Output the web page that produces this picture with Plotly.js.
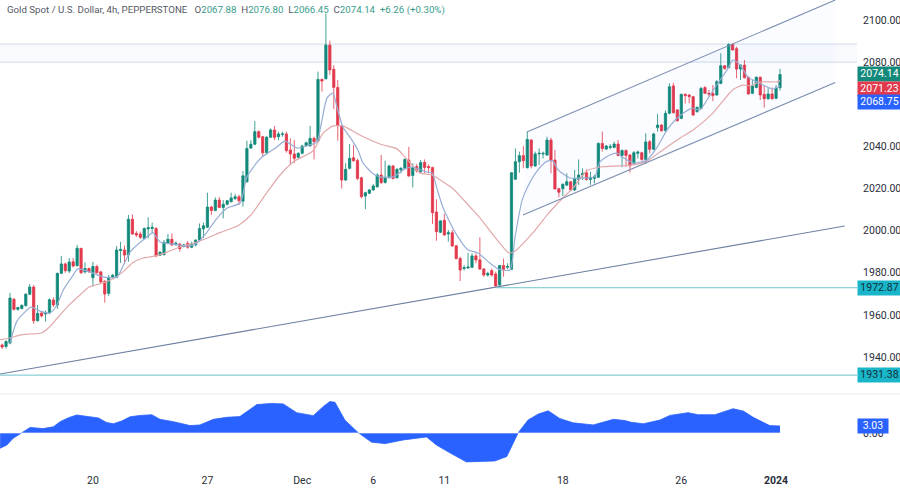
<!DOCTYPE html>
<html>
<head>
<meta charset="utf-8">
<script src="https://cdn.plot.ly/plotly-3.0.1.min.js"></script>
<style>html,body{margin:0;padding:0;background:#fff}#chart{width:900px;height:488px}</style>
</head>
<body>
<div id="chart"></div>
<script>
const opens = [
1945.7,1945,1946.6,1967.4,1962.6,1963,1964.4,1969.8,1973.2,1957.2,
1960.9,1960.4,1960.9,1967,1964.7,1979.7,1984.2,1980.8,1985.2,1983.3,
1991.6,1980.4,1982,1977.6,1982.9,1980.4,1975.9,1970.2,1977.8,1977.8,
1990.5,1990.8,1988.4,2005.4,1998.7,1998.4,1996.3,2000.8,2001,2001,
1988.3,1988.6,1994,1995.9,1993.5,1993.6,1992.4,1994,1992.1,1993.2,
1995.5,2000.8,2001.6,2011.2,2009.5,2014.5,2011,2012.5,2013.7,2015.2,
2016.1,2014,2023.2,2039.2,2041,2047,2044.6,2037,2044.3,2047.8,
2044.6,2045.7,2045.9,2038.3,2036.4,2034.8,2036.7,2040.3,2040.2,2043.8,
2042.5,2071.8,2072.1,2088.1,2076.6,2068,2049.8,2024,2029.6,2034.6,
2033.3,2025.1,2016.4,2017.7,2019.3,2020.8,2026.4,2022.8,2025.1,2030.7,
2025.1,2028.8,2029.6,2033.5,2026.2,2030.4,2028,2032.4,2030.4,2030,
2008.8,1999.2,2004.9,1998.4,1999,1992.8,1986.8,1982,1982.2,1982.6,
1988,1986.1,1981.8,1978.9,1981,1979.4,1974.2,1983.4,1982.6,1981.6,
2024.4,2032.7,2035.6,2029.9,2043,2030.7,2036.4,2036.4,2035.9,2043,
2033.5,2019.9,2019.9,2021.6,2023.2,2019.3,2024.3,2026.4,2027.5,2024.3,
2024.8,2025.3,2041.4,2038.7,2039.5,2039.5,2041.1,2035.7,2038,2035.9,
2031.9,2036.7,2037,2033.8,2042.2,2038.6,2048.9,2050.1,2047.4,2055.7,
2068.7,2057.3,2053.3,2064.7,2064.4,2063.6,2056.5,2058,2067.9,2065.2,
2065.2,2064.4,2069.9,2078.3,2077.4,2088.4,2086.4,2076.7,2078.6,2072.8,
2065.2,2068,2072.8,2064.7,2062.6,2064.9,2062.8,2067.88];
const highs = [
1946.4,1948,1970.5,1968,1963.8,1965,1970.3,1974.6,1974.2,1964.7,
1961.5,1962,1967.8,1968.3,1980,1988,1984.8,1987,1987,1993.2,
1991.6,1985,1982.4,1985.2,1983.8,1980.9,1976.5,1979,1979.4,1992.7,
1994.7,1993,2007.4,2007.7,1999.8,1999.5,2001.5,2006.3,2003.8,2001.6,
1990.3,1995.5,1998.4,1998.7,1994.8,1994.2,1993.8,1995,1994.8,1995.9,
2003.4,2003.8,2018,2011.7,2015.8,2016,2014.5,2014.6,2018,2017.4,
2017,2028.3,2042.7,2043,2052,2047.6,2045,2045,2048.6,2049.7,
2047,2047,2047,2043.8,2043,2037.2,2040.8,2042.3,2049.7,2044.6,
2075.5,2072.2,2103,2090.2,2078.6,2071.5,2050,2032,2041.1,2040.6,
2034.2,2025.6,2018.5,2019.8,2022.1,2027.2,2035.9,2033.2,2031.3,2031.2,
2029.6,2030.1,2034.3,2039.8,2032,2031.6,2033.5,2033.8,2031.5,2030.3,
2014.9,2005,2008,2000.3,2000.3,1993.2,1987.6,1983.6,1989.5,1989.2,
1989.2,1996.8,1982.2,1980.5,1982,1980.5,1983.7,1986.8,1984.5,2027.5,
2039,2037.5,2040.2,2047,2043.4,2037.5,2039,2037.5,2044.6,2044.1,
2038.3,2020.3,2022.4,2027.2,2023.6,2028.8,2033.8,2029.6,2029.1,2028,
2026.5,2041.9,2047,2040.6,2041.1,2042.2,2043,2038.6,2038.6,2036.3,
2037.8,2038,2037.5,2046.2,2043,2046.5,2055.4,2050.6,2057,2069.9,
2070.2,2057.7,2065,2065.2,2064.8,2064,2059,2068.3,2068.7,2066.8,
2069.1,2071.5,2084.2,2078.6,2088.9,2088.9,2087.3,2079,2081,2073.2,
2071.5,2073.2,2073.2,2069.1,2068,2068,2069.1,2076.8];
const lows = [
1943.8,1944,1946,1962,1962,1962.6,1963.8,1969.4,1955.7,1956.8,
1958.8,1956.8,1960.4,1963.8,1962.8,1979.4,1980,1979.8,1982.5,1983,
1979.4,1979.6,1980,1973.4,1979.6,1975,1965.8,1969,1977.2,1977.4,
1984.6,1984.2,1985.2,1998,1996.9,1996,1995.8,1996.3,1998.8,1987.3,
1987.9,1988.2,1993.5,1992.6,1992.7,1990,1992,1991.4,1991.7,1992.5,
1995.2,1996.5,2001.2,2007.4,2009.2,2010.6,2005.8,2012,2013.4,2014.6,
2012.2,2011.3,2022.8,2038.8,2040.6,2043.8,2035,2036,2044,2043,
2043,2044.6,2037,2031.2,2032,2034.3,2036.2,2039.9,2039.8,2033.8,
2042.1,2066,2071.8,2073.9,2057.7,2042.7,2020,2023.6,2029,2032.7,
2024,2015.3,2010.2,2017.3,2018.9,2020.4,2022.1,2022.4,2024.7,2024.3,
2024.7,2027.2,2029.2,2025.6,2020.5,2027.5,2027.2,2027.2,2027.2,2003.1,
1995.2,1998.8,1997.5,1994.8,1992.4,1986.4,1976,1981,1982,1982.1,
1984.5,1981.3,1978.1,1978.1,1978.1,1973.4,1973.4,1978.1,1981.6,1981.6,
2024,2027.5,2029.6,2029.5,2029.6,2030.3,2031.2,2034.3,2035.5,2027.2,
2019.5,2015.8,2016.4,2021.2,2018.8,2018.9,2021.7,2024,2023.7,2021.7,
2022.4,2025,2037.5,2038.3,2038.6,2039.1,2035.3,2030,2030.4,2027.5,
2031.3,2034.3,2033.2,2031.6,2036.7,2038.2,2047,2047,2047,2055.3,
2055.6,2051.7,2052.9,2060.4,2060.4,2054.4,2056,2057.6,2064.8,2063.6,
2061.5,2064,2069.5,2076.3,2077,2085.4,2072.3,2071.5,2072.2,2064.4,
2064.8,2067.6,2062,2058.4,2062.2,2062.2,2062.4,2066.45];
const closes = [
1944.7,1947.3,1968,1962.6,1963.5,1964.5,1969.8,1973.2,1957.2,1960.7,
1959.5,1961,1967.2,1964.7,1979.7,1984.2,1981,1985.1,1983.2,1991.6,
1980,1982,1980.4,1983,1980,1975.6,1969.9,1977.8,1978.8,1990.8,
1991.1,1988.4,2005.4,1998.4,1997.9,1996.8,2001,2001.4,2001.6,1988,
1989.7,1994.5,1995.9,1993.2,1994,1991.4,1993.2,1992.1,1993.6,1995.5,
2001,2002.3,2011.2,2009.5,2014.5,2011,2012.5,2014.2,2015.5,2016.1,
2014.2,2026,2039,2041,2047,2044.3,2037,2044.3,2047.8,2044.3,
2045.9,2045.9,2038,2036.4,2034.3,2036.7,2040.2,2041.7,2043.8,2042.2,
2071.8,2071,2088.1,2076.3,2068,2049.8,2024,2029.1,2034.3,2033.2,
2024.8,2016.1,2018,2019.3,2021.2,2026.4,2022.8,2025.3,2030.7,2024.8,
2029.1,2029.6,2033.8,2025.9,2030,2028.5,2032.3,2030,2029.9,2008.5,
1999.5,2004.6,1997.9,1999,1992.7,1986.7,1981.3,1982.4,1982.7,1988,
1986.1,1981.8,1978.9,1979.7,1978.9,1973.7,1983.4,1981.6,1982.9,2027.5,
2032.7,2035.6,2033.2,2043.3,2030.7,2036.4,2036.7,2036.7,2043,2033.2,
2019.8,2018.2,2022,2023.2,2019.3,2024.8,2026.4,2027.2,2024.3,2025.3,
2025.6,2041.4,2039,2040.2,2039.9,2041.1,2035.7,2038,2035.7,2030.7,
2037,2037.3,2033.8,2042.1,2038.6,2045.9,2050.1,2047.4,2055.7,2068.3,
2056,2052.2,2064.7,2064.1,2063.6,2054.9,2058.5,2067.5,2065.2,2064.9,
2064.1,2070.7,2078.3,2077,2088.4,2085.8,2076.7,2078.6,2072.6,2064.9,
2068.7,2072.8,2064.4,2062.6,2064.9,2062.6,2067.7,2074.14];
const barIndex = opens.map((_, i) => i);

const slowX = [-0.5,2,4.5,7,10,12,14,17,20,22,25.5,28,30.6,33,35.7,39,41.8,45,49.3,52,55,60,63,67,70.4,73.7,78.7,81.3,83.8,86.3,90.6,95.7,100,102,105.8,108.9,111,114,119.2,121,126,128.4,129.9,134.4,138,142,144.6,148,151.4,156.5,159.8,163.3,167.3,171.7,175,180,185,187.6,189.4,192,196.2,197];
const slowY = [1948.1,1949,1950.4,1950.9,1951.4,1954.2,1958.5,1964.7,1969.9,1973.2,1975.1,1977,1980.4,1984.6,1987,1988,1989.8,1992.2,1994.6,1996.5,1998.9,2002.7,2007.4,2017.9,2026.4,2032.6,2037.8,2046.3,2049.7,2049.7,2045.4,2041.1,2038.8,2035,2027.4,2026.4,2024,2020.2,2009.8,2006,1994.1,1989.4,1990.3,1998.9,2007.4,2015.5,2020.2,2028.3,2030.2,2030.7,2031.2,2033,2038.3,2044,2047.8,2055.8,2066.8,2069.1,2068.7,2070.6,2070.6,2071.23];
const fastX = [2,3.7,5.8,7.3,9.6,12.1,13.9,15.5,17.7,19.2,22.8,25.6,29.1,31.1,32.4,35.7,38.2,40,43.3,46.8,49.3,51.9,54.4,57,60.3,62,65.3,69.6,71.6,74.7,78,79.7,81,82.3,83.8,84.8,86.3,88.6,90.1,91.4,93.7,95.7,99,102,103.8,107.6,108.9,110.1,111.6,114.7,118,120.5,123.5,125.6,128.6,129.9,131.7,133.2,135.7,138,139.5,140.8,143.8,148.1,150.1,151.4,153.9,155.7,157,159.8,163.3,165.9,168.4,171,174.7,176.7,179.3,181.3,183.6,185.1,186.9,188.9,191.2,192.7,195.2,197];
const fastY = [1946.6,1956.8,1961.4,1963.7,1961.8,1960.9,1964.7,1971.8,1978,1981.8,1979.9,1978,1978,1985.1,1989.8,1995.5,1998.9,1994.6,1993.6,1992.6,1994,1999.3,2005.8,2010.7,2013.1,2025.5,2034,2039.7,2042.5,2039.2,2040.7,2042,2052.5,2063,2065.3,2058.7,2049.2,2043,2038.3,2032.1,2027.4,2025.5,2025.5,2029.3,2030.2,2027.8,2027.4,2020.2,2011.2,1999.3,1990.8,1989.4,1984.6,1981.8,1981.3,1997,2014.5,2021.2,2028.8,2033,2033,2028.8,2025,2025,2025.5,2032.6,2035.9,2036.8,2035,2032.1,2033.5,2039.7,2047.8,2053.5,2058.2,2057.3,2064.4,2070.1,2076.3,2081,2078.6,2072.9,2070.6,2069.1,2067.2,2068.75];

const oscX = [-0.5,1.2,2.8,5,7.1,10.4,13,14.7,16.8,18.9,22.3,24.4,26.5,28.2,30.3,32.4,34.9,37.9,40,43.4,47.6,50.1,53.5,56.9,60.2,64.5,68.2,71.2,74.6,78.8,81.3,83,84.3,86.8,90.2,93.6,97,101.6,107.5,110,113.4,117.6,124.8,127.8,130.7,133.2,135.8,138.3,141.2,144.6,149.7,154.8,157.7,159.4,162.4,166.6,169.1,173.7,176.3,180.5,185.1,187.7,190.2,194.4,197];
const oscY = [-6.6,-5.2,-2.3,0.1,2.4,1.9,2.7,4.9,6.6,7.8,7.1,6.5,4.5,4,5.2,7,7.6,7.9,5.9,4.9,3.2,3.5,5.9,6.8,7.1,12.3,12.8,12.6,8.8,7.5,11.4,13.6,13.3,5.6,0.1,-4,-4.6,-3,-1.7,-5.2,-8.6,-12.5,-12.1,-10.2,0.1,5.6,8.2,9.6,6.3,4.4,3.5,5.9,5.4,4.6,4,5.6,7.6,8.8,7.9,7.9,10.5,9.5,6.8,3.2,3.03];

const channelUpperX = [132.9, 211], channelUpperY = [2046.8, 2109.5];
const channelLowerX = [131.9, 211], channelLowerY = [2007.4, 2070.3];
const trendX = [-0.53, 213.4], trendY = [1931.9, 2002.2];
const zoneLevels = [2080, 2088.6];
const supportLevels = [1972.87, 1931.38];
const supportStart = [125.3, -0.53];

const priceTicks = [2100,2080,2040,2020,2000,1980,1960,1940];
const dateTickPos = [23,52,76,94,112,142,172,196];
const dateTickText = ['20','27','Dec','6','11','18','26','<b>2024</b>'];
const lastPrice = 2074.14, slowLast = 2071.23, fastLast = 2068.75, oscLast = 3.03;

const FONT = 'Roboto, "Open Sans", sans-serif';
const UP = '#12897a', DOWN = '#e23a4c', BLUE = '#2962ff', CYAN = '#19b5c9';
const xMin = -0.53, xMax = 216.5;

const traces = [
  {type:'scatter', mode:'lines', x:[channelUpperX[0],channelUpperX[1],channelLowerX[1],channelLowerX[0],channelUpperX[0]],
   y:[channelUpperY[0],channelUpperY[1],channelLowerY[1],channelLowerY[0],channelUpperY[0]],
   fill:'toself', fillcolor:'rgba(41,98,255,0.018)', line:{width:0,color:'rgba(0,0,0,0)'}, hoverinfo:'skip', showlegend:false, yaxis:'y'},
  {type:'candlestick', x:barIndex, open:opens, high:highs, low:lows, close:closes,
   increasing:{line:{color:UP,width:0.8}, fillcolor:UP},
   decreasing:{line:{color:DOWN,width:0.8}, fillcolor:DOWN},
   whiskerwidth:0, showlegend:false, yaxis:'y'},
  {type:'scatter', mode:'lines', x:slowX, y:slowY, line:{color:'#e3a8aa',width:1.2,shape:'spline',smoothing:0.6}, hoverinfo:'skip', showlegend:false, yaxis:'y'},
  {type:'scatter', mode:'lines', x:fastX, y:fastY, line:{color:'#98aed6',width:1.2,shape:'spline',smoothing:0.6}, hoverinfo:'skip', showlegend:false, yaxis:'y'},
  {type:'scatter', mode:'lines', x:channelUpperX, y:channelUpperY, line:{color:'#7b8db0',width:1.1}, hoverinfo:'skip', showlegend:false, yaxis:'y'},
  {type:'scatter', mode:'lines', x:channelLowerX, y:channelLowerY, line:{color:'#7b8db0',width:1.1}, hoverinfo:'skip', showlegend:false, yaxis:'y'},
  {type:'scatter', mode:'lines', x:trendX, y:trendY, line:{color:'#6d80a2',width:1.1}, hoverinfo:'skip', showlegend:false, yaxis:'y'},
  {type:'scatter', mode:'lines', x:[supportStart[0],xMax], y:[supportLevels[0],supportLevels[0]], line:{color:'#6cc4cc',width:1}, hoverinfo:'skip', showlegend:false, yaxis:'y'},
  {type:'scatter', mode:'lines', x:[supportStart[1],xMax], y:[supportLevels[1],supportLevels[1]], line:{color:'#6cc4cc',width:1}, hoverinfo:'skip', showlegend:false, yaxis:'y'},
  {type:'scatter', mode:'lines', x:oscX, y:oscY, fill:'tozeroy', fillcolor:BLUE, line:{color:BLUE,width:0.8}, hoverinfo:'skip', showlegend:false, yaxis:'y2'}
];

function priceLabel(text, yValue, yref, bg, color, shift, width) {
  return {xref:'paper', x:1, xanchor:'left', yref:yref, y:yValue, yanchor:'middle', yshift:shift,
    text:text, showarrow:false, bgcolor:bg, width:width, height:13.5, borderpad:0, align:'center',
    font:{family:FONT,size:10.5,color:color}};
}
const V = 'color:#3a9d8c';
const header = 'Gold Spot / U.S. Dollar, 4h, PEPPERSTONE   O<span style="'+V+'">2067.88</span>  H<span style="'+V+'">2076.80</span>  L<span style="'+V+'">2066.45</span>  C<span style="'+V+'">2074.14</span>  <span style="'+V+'">+6.26 (+0.30%)</span>';

const layout = {
  width:900, height:488, paper_bgcolor:'#fff', plot_bgcolor:'#fff',
  margin:{l:0,r:43,t:0,b:20}, showlegend:false, dragmode:false, boxgap:0.18,
  font:{family:FONT,size:10.5,color:'#2a2e39'},
  xaxis:{domain:[0,1], range:[xMin,xMax], anchor:'y2', rangeslider:{visible:false}, showgrid:false, zeroline:false, showline:false,
    tickmode:'array', tickvals:dateTickPos, ticktext:dateTickText, ticks:'outside', ticklen:2, tickcolor:'rgba(0,0,0,0)',
    tickfont:{family:FONT,size:10.5,color:'#2a2e39'}},
  yaxis:{domain:[0.1603,1], range:[1922.9,2109.5], side:'right', anchor:'x', showgrid:false, zeroline:false, showline:false,
    tickmode:'array', tickvals:priceTicks, tickformat:'.2f', ticks:'outside', ticklen:3, tickcolor:'rgba(0,0,0,0)',
    tickfont:{family:FONT,size:10.5,color:'#2a2e39'}},
  yaxis2:{domain:[0,0.156], range:[-15.15,16.45], side:'right', anchor:'x', showgrid:false, zeroline:false, showline:false,
    tickmode:'array', tickvals:[0], tickformat:'.2f', ticks:'outside', ticklen:3, tickcolor:'rgba(0,0,0,0)',
    tickfont:{family:FONT,size:10.5,color:'#2a2e39'}},
  shapes:[
    {type:'rect', layer:'below', xref:'x', yref:'y', x0:xMin, x1:xMax, y0:zoneLevels[0], y1:zoneLevels[1], fillcolor:'#f8fafe', line:{width:0}},
    {type:'line', layer:'below', xref:'x', yref:'y', x0:xMin, x1:xMax, y0:zoneLevels[0], y1:zoneLevels[0], line:{color:'#d0d9e8',width:1}},
    {type:'line', layer:'below', xref:'x', yref:'y', x0:xMin, x1:xMax, y0:zoneLevels[1], y1:zoneLevels[1], line:{color:'#d0d9e8',width:1}},
    {type:'line', layer:'above', xref:'paper', yref:'paper', x0:0, x1:1.0502, y0:0.158, y1:0.158, line:{color:'#ececec',width:1}},
    {type:'line', layer:'above', xref:'x', yref:'y2', x0:xMin, x1:197, y0:0, y1:0, line:{color:'rgba(255,255,255,0.8)',width:0.8}}
  ],
  annotations:[
    {xref:'paper', yref:'paper', x:0.0055, xanchor:'left', y:1, yanchor:'top', yshift:-2, text:header, showarrow:false, align:'left',
     font:{family:FONT,size:9.7,color:'#555964'}},
    priceLabel(lastPrice.toFixed(2), lastPrice, 'y', UP, '#fff', 0, 43),
    priceLabel(slowLast.toFixed(2), slowLast, 'y', DOWN, '#fff', -8, 43),
    priceLabel(fastLast.toFixed(2), fastLast, 'y', BLUE, '#fff', -16, 43),
    priceLabel(supportLevels[0].toFixed(2), supportLevels[0], 'y', CYAN, '#10303a', 0, 43),
    priceLabel(supportLevels[1].toFixed(2), supportLevels[1], 'y', CYAN, '#10303a', 0, 43),
    priceLabel(oscLast.toFixed(2), oscLast, 'y2', BLUE, '#fff', 0, 30)
  ]
};
Plotly.newPlot('chart', traces, layout, {displayModeBar:false, staticPlot:true});
</script>
</body>
</html>
